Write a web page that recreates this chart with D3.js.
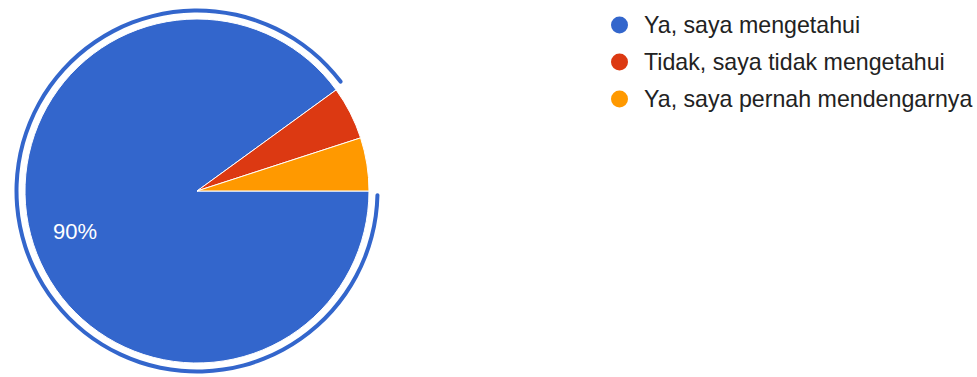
<!DOCTYPE html>
<html>
<head>
<meta charset="utf-8">
<script src="https://cdn.jsdelivr.net/npm/d3@7"></script>
<style>
  html, body { margin: 0; padding: 0; background: #fff; }
  svg { display: block; }
</style>
</head>
<body>
<div id="chart"></div>
<script>
// answers and their shares (percent)
const categories = ['Ya, saya mengetahui', 'Tidak, saya tidak mengetahui', 'Ya, saya pernah mendengarnya'];
const values = [90, 5, 5];
const colors = ['#3366cc', '#dc3912', '#ff9900'];

const width = 977, height = 377;
const cx = 197, cy = 191, radius = 172;
const font = '"Liberation Sans", Arial, sans-serif';

const svg = d3.select('#chart').append('svg')
  .attr('width', width)
  .attr('height', height);

// slices start at 3 o'clock and go clockwise
const pie = d3.pie()
  .sort(null)
  .value(d => d)
  .startAngle(Math.PI / 2)
  .endAngle(Math.PI / 2 + 2 * Math.PI);

const arcs = pie(values);
const arc = d3.arc().innerRadius(0).outerRadius(radius);

const g = svg.append('g').attr('transform', `translate(${cx},${cy})`);

g.selectAll('path.slice')
  .data(arcs)
  .join('path')
  .attr('class', 'slice')
  .attr('d', arc)
  .attr('fill', (d, i) => colors[i])
  .attr('stroke', '#fff')
  .attr('stroke-width', 1);

// hover ring around the biggest slice
const ring = d3.arc()
  .innerRadius(radius + 6.5)
  .outerRadius(radius + 10.5)
  .cornerRadius(2);
g.append('path')
  .attr('d', ring({startAngle: arcs[0].startAngle + 0.012, endAngle: arcs[0].endAngle - 0.012}))
  .attr('fill', colors[0]);

// percent label on the big slice only
const labelArc = d3.arc().innerRadius(radius * 0.745).outerRadius(radius * 0.745);
g.selectAll('text.pct')
  .data(arcs.filter(d => d.data >= 10))
  .join('text')
  .attr('class', 'pct')
  .attr('transform', d => `translate(${labelArc.centroid(d)})`)
  .attr('text-anchor', 'middle')
  .attr('dy', '0.36em')
  .attr('fill', '#fff')
  .attr('font-family', font)
  .attr('font-size', 22)
  .text(d => d.data + '%');

// legend
const legend = svg.append('g').attr('transform', 'translate(619.5,25)');
const rows = legend.selectAll('g')
  .data(categories)
  .join('g')
  .attr('transform', (d, i) => `translate(0,${i * 37})`);
rows.append('circle')
  .attr('r', 8.5)
  .attr('fill', (d, i) => colors[i]);
rows.append('text')
  .attr('x', 24.5)
  .attr('dy', '0.36em')
  .attr('fill', '#222222')
  .attr('font-family', font)
  .attr('font-size', 23.2)
  .text(d => d);
</script>
</body>
</html>
